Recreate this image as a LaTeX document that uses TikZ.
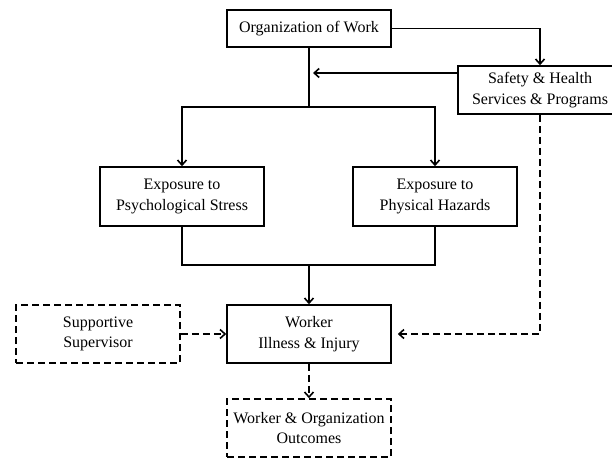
\documentclass[tikz,border=0pt]{standalone}
\usepackage{fontspec}
\setmainfont{Liberation Serif}
\usepackage{tikz}
\usetikzlibrary{arrows.meta}

\tikzset{
  box/.style={draw, line width=1.6pt, minimum width=164pt, align=center,
    inner sep=2pt, font=\fontsize{16}{20.5}\selectfont},
  dbox/.style={box, dash pattern=on 7pt off 4pt},
  link/.style={line width=1.6pt, -{Straight Barb[length=5pt,width=9pt,line width=1.6pt]}},
  dlink/.style={link, dash pattern=on 7pt off 4pt}
}

\begin{document}
\begin{tikzpicture}[x=1pt, y=-1pt]
\useasboundingbox (0,0) rectangle (612,460);

% Top boxes
\node[box, minimum height=37pt] (org) at (309,28.5) {Organization of Work};
\node[box, minimum height=48pt] (safety) at (540,90) {Safety \& Health\\Services \& Programs};

% Exposures
\node[box, minimum height=59pt] (psych) at (182,196.5) {Exposure to\\Psychological Stress};
\node[box, minimum height=59pt] (phys) at (435,196.5) {Exposure to\\Physical Hazards};

% Worker
\node[box, minimum height=58pt] (worker) at (309,334) {Worker\\Illness \& Injury};
\node[dbox, minimum height=58pt] (support) at (98,334) {Supportive\\Supervisor};
\node[dbox, minimum height=58pt] (outcome) at (309,428) {Worker \& Organization\\Outcomes};

% Branch points
\coordinate (split) at (309,107);
\coordinate (join) at (309,265);
\coordinate (sin) at (313,73);

% Connections
\draw[line width=1.6pt] (org) -- (split);
\draw[link] (split) -| (psych);
\draw[link] (split) -| (phys);
\draw[link] (org) -| (safety);
\draw[link] ([yshift=17pt]safety.west) -- (sin);
\draw[line width=1.6pt] (psych) |- (join) -| (phys);
\draw[link] (join) -- (worker);

% Dashed links
\draw[dlink] (support) -- (worker);
\draw[dlink] (safety.south) |- ([xshift=6pt]worker.east);
\draw[dlink] (worker) -- (outcome);
\end{tikzpicture}
\end{document}
